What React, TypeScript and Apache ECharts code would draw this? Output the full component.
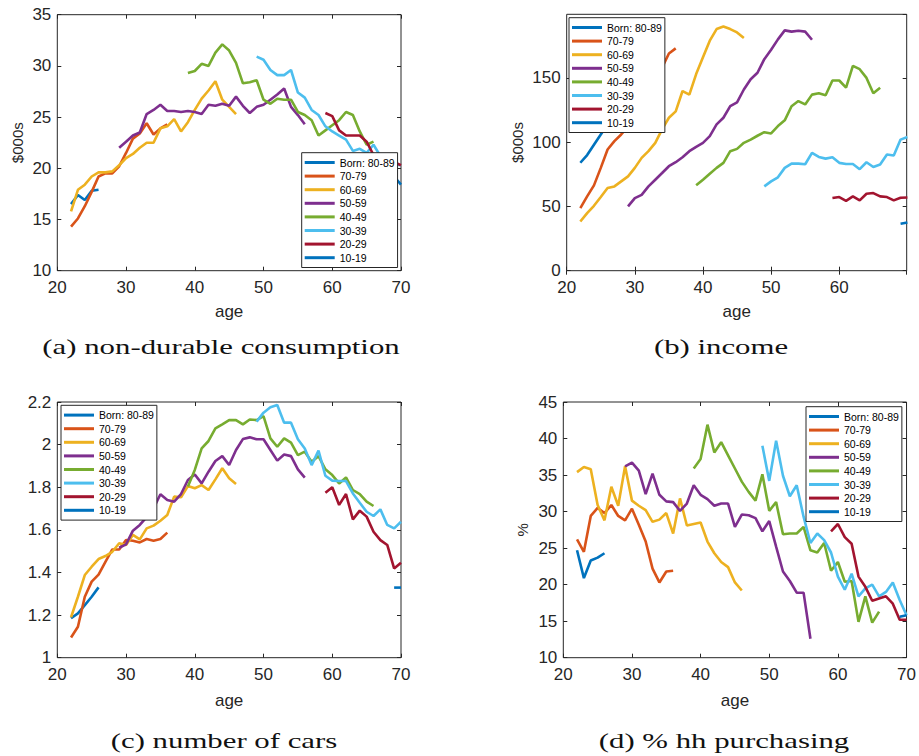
import React, { useEffect, useRef } from 'react';
import * as echarts from 'echarts';

const cohorts = ['Born: 80-89', '70-79', '60-69', '50-59', '40-49', '30-39', '20-29', '10-19'];
const startAges = [22, 22, 22, 29, 39, 49, 59, 69];
const colors = ['#0072BD', '#D95319', '#EDB120', '#7E2F8E', '#77AC30', '#4DBEEE', '#A2142F', '#0072BD'];

// (a) non-durable consumption, $000s
const consumption: number[][] = [
  [16.5, 17.4, 16.9, 17.8, 17.9],
  [14.3, 15.1, 16.3, 17.7, 19.2, 19.5, 19.5, 20.2, 21.5, 22.9, 23.4, 24.4, 23.3, 23.9, 24.3],
  [15.8, 17.9, 18.4, 19.2, 19.6, 19.6, 19.7, 20.3, 21.0, 21.4, 22.0, 22.5, 22.5, 23.9, 24.1, 24.8, 23.6, 24.5, 25.7, 26.8, 27.6, 28.5, 26.7, 26.0, 25.3],
  [22.0, 22.6, 23.2, 23.5, 25.3, 25.7, 26.2, 25.6, 25.6, 25.5, 25.6, 25.5, 25.3, 26.2, 26.1, 26.3, 26.1, 27.0, 26.1, 25.4, 26.0, 26.2, 26.7, 27.2, 27.8, 26.0, 25.2, 24.3],
  [29.3, 29.5, 30.2, 30.0, 31.3, 32.1, 31.5, 30.3, 28.3, 28.4, 28.6, 26.7, 26.3, 26.8, 26.7, 26.7, 25.5, 25.2, 24.7, 23.2, 23.7, 24.2, 24.7, 25.5, 25.2, 23.6, 22.3, 22.6],
  [30.9, 30.6, 29.6, 29.1, 29.1, 29.6, 27.4, 26.9, 25.7, 25.2, 24.1, 23.6, 23.2, 22.8, 21.7, 21.9, 21.5, 22.3, 21.2, 20.8, 20.4, 20.3],
  [25.4, 25.1, 23.7, 23.2, 23.2, 23.2, 22.6, 21.3, 21.0, 20.8, 20.6, 20.3],
  [19.2, 18.4],
];

// (b) income, $000s
const income: number[][] = [
  [84, 90, 98, 106, 114],
  [48.7, 57.8, 66.4, 80, 94.3, 100.8, 106, 112, 120, 128, 138, 148, 158, 169, 173],
  [38.3, 44.8, 50.5, 57.3, 64.3, 65.6, 69.5, 73.4, 80, 87.8, 93, 99.5, 110, 119, 124, 139.8, 137, 153, 166, 179, 188, 190, 188, 185.4, 181],
  [50, 56.5, 59, 65.6, 70.8, 76, 81.3, 84.4, 88.3, 93, 96.4, 99.5, 104.7, 113.8, 119, 128, 131, 141, 149, 154, 164.6, 171.9, 180, 187, 186, 186.7, 186, 179.7],
  [66.4, 70.8, 75.5, 80, 83.9, 93, 94.8, 99.5, 102, 105, 107.8, 106.8, 112.5, 117, 128, 132, 129.4, 137, 138, 136.5, 148, 148, 142.4, 159.4, 156.8, 150, 138, 142.4],
  [65.6, 69.5, 72.7, 80, 83.3, 83.3, 82.8, 91.7, 88.5, 87.2, 88.3, 83.9, 83, 83, 79, 84.4, 80.7, 82.6, 90.4, 89.6, 102, 104],
  [56.5, 57.3, 54.4, 57.8, 54.7, 59.9, 60.4, 57.8, 57.3, 54.7, 56.8, 57],
  [36.5, 37.5],
];

// (c) number of cars
const cars: number[][] = [
  [1.185, 1.208, 1.247, 1.286, 1.33],
  [1.095, 1.145, 1.286, 1.357, 1.39, 1.45, 1.508, 1.508, 1.552, 1.549, 1.541, 1.557, 1.549, 1.557, 1.587],
  [1.19, 1.286, 1.388, 1.427, 1.463, 1.477, 1.497, 1.537, 1.529, 1.576, 1.555, 1.607, 1.62, 1.643, 1.67, 1.756, 1.753, 1.806, 1.795, 1.81, 1.787, 1.837, 1.889, 1.842, 1.815],
  [1.516, 1.532, 1.596, 1.623, 1.66, 1.7, 1.767, 1.74, 1.732, 1.768, 1.834, 1.86, 1.818, 1.873, 1.923, 1.946, 1.904, 1.975, 2.026, 2.034, 2.025, 2.025, 1.975, 1.925, 1.954, 1.946, 1.884, 1.845],
  [1.803, 1.881, 1.982, 2.017, 2.076, 2.095, 2.115, 2.115, 2.095, 2.118, 2.115, 2.134, 2.029, 1.99, 2.029, 2.009, 1.951, 1.967, 1.92, 1.946, 1.884, 1.857, 1.818, 1.846, 1.787, 1.768, 1.732, 1.712],
  [2.108, 2.15, 2.175, 2.186, 2.103, 2.103, 2.025, 1.982, 1.904, 1.972, 1.854, 1.831, 1.829, 1.829, 1.771, 1.727, 1.685, 1.665, 1.696, 1.623, 1.607, 1.638],
  [1.774, 1.8, 1.717, 1.768, 1.649, 1.69, 1.662, 1.591, 1.552, 1.529, 1.419, 1.446],
  [1.329, 1.329],
];

// (d) % hh purchasing
const purchasing: number[][] = [
  [24.7, 20.9, 23.3, 23.7, 24.3],
  [26.2, 24.5, 29.4, 30.5, 29.8, 30.9, 29.4, 28.8, 30.4, 28.2, 25.9, 22.2, 20.3, 21.8, 21.9],
  [35.4, 36.1, 35.8, 30.9, 28.8, 33.4, 30.8, 36.2, 31.5, 30.8, 30.2, 28.6, 28.9, 29.8, 27.0, 31.8, 28.1, 28.3, 28.5, 25.9, 24.3, 23.1, 22.4, 20.3, 19.2],
  [36.2, 36.7, 35.6, 32.4, 35.2, 32.3, 31.4, 31.3, 30.1, 31.1, 33.6, 32.3, 31.7, 30.8, 31.1, 31.1, 27.9, 29.6, 29.5, 29.1, 27.3, 28.7, 25.2, 21.8, 20.5, 18.9, 18.9, 12.6],
  [35.9, 37.2, 41.9, 38.1, 39.5, 37.7, 35.9, 34.1, 32.7, 31.5, 35.1, 30.1, 31.3, 26.9, 27.0, 27.0, 27.9, 24.7, 24.4, 25.7, 21.9, 23.1, 20.4, 20.5, 14.9, 18.4, 14.8, 16.3],
  [39.0, 34.2, 39.7, 34.9, 32.1, 33.6, 29.3, 25.7, 27.0, 26.1, 24.4, 21.1, 19.3, 21.5, 18.4, 19.5, 20.0, 18.4, 19.0, 20.3, 17.9, 15.8],
  [27.3, 28.3, 26.5, 25.6, 21.1, 19.7, 17.8, 18.1, 18.4, 17.4, 15.2, 15.2],
  [15.6, 15.8],
];

const panelData = [consumption, income, cars, purchasing];
const yNames = ['$000s', '$000s', '', '%'];
const yMins = [10, 0, 1, 10];
const yMaxs = [35, 199.5, 2.2, 45];
const yIntervals = [5, 50, 0.2, 5];
const xMaxs = [70, 69.9, 70, 70];
const captions = ['(a) non-durable consumption', '(b) income', '(c) number of cars', '(d) % hh purchasing'];

const FONT = '"Liberation Sans", Arial, Helvetica, sans-serif';
const AX = '#262626';

const grids = [
  { left: 57.3, top: 14.7, width: 343.7, height: 256 },
  { left: 566.7, top: 14.3, width: 340, height: 256.4 },
  { left: 57.3, top: 402, width: 343.7, height: 255.7 },
  { left: 563.3, top: 402, width: 343.4, height: 255.7 },
];
const legendPos = [
  { left: 301.7, top: 152.7 },
  { left: 569, top: 17.7 },
  { left: 61, top: 405.3 },
  { left: 806, top: 406.7 },
];
const yNameGaps = [32, 42, 30, 33];
const captionPos = [
  { x: 221, y: 347 },
  { x: 721, y: 347 },
  { x: 224, y: 741 },
  { x: 724, y: 741 },
];

export default function App() {
  const ref = useRef<HTMLDivElement>(null);
  useEffect(() => {
    if (!ref.current) return;
    const chart = echarts.init(ref.current, null, { renderer: 'svg' });
    const xAxis: any[] = [];
    const yAxis: any[] = [];
    const series: any[] = [];
    for (let p = 0; p < 4; p++) {
      xAxis.push({
        type: 'value', gridIndex: p, min: 20, max: xMaxs[p], interval: 10, position: 'bottom',
        name: 'age', nameLocation: 'middle', nameGap: p < 2 ? 32 : 34,
        nameTextStyle: { fontSize: 17, color: AX, fontFamily: FONT },
        axisLine: { show: false },
        axisTick: { show: true, inside: true, length: 4, lineStyle: { color: AX } },
        axisLabel: { fontSize: 17, color: AX, fontFamily: FONT, margin: 8, showMaxLabel: xMaxs[p] === 70 },
        splitLine: { show: false },
      });
      yAxis.push({
        type: 'value', gridIndex: p, min: yMins[p], max: yMaxs[p], interval: yIntervals[p], position: 'left',
        name: yNames[p], nameLocation: 'middle', nameGap: yNameGaps[p],
        nameTextStyle: { fontSize: 15, color: AX, fontFamily: FONT },
        axisLine: { show: false },
        axisTick: { show: true, inside: true, length: 4, lineStyle: { color: AX } },
        axisLabel: { fontSize: 17, color: AX, fontFamily: FONT, margin: 6, showMaxLabel: p !== 1 },
        splitLine: { show: false },
      });
      panelData[p].forEach((vals, c) => {
        series.push({
          type: 'line', name: cohorts[c], xAxisIndex: p, yAxisIndex: p,
          data: vals.map((v, k) => [startAges[c] + k, v]),
          showSymbol: false, symbol: 'none', silent: true, clip: true,
          lineStyle: { width: 2.6, color: colors[c] },
          itemStyle: { color: colors[c] },
        });
      });
    }
    for (let p = 0; p < 4; p++) {
      xAxis.push({
        type: 'value', gridIndex: p, min: 20, max: xMaxs[p], interval: 10, position: 'top',
        axisLine: { show: false }, axisLabel: { show: false }, splitLine: { show: false },
        axisTick: { show: true, inside: true, length: 4, lineStyle: { color: AX } },
      });
      yAxis.push({
        type: 'value', gridIndex: p, min: yMins[p], max: yMaxs[p], interval: yIntervals[p], position: 'right',
        axisLine: { show: false }, axisLabel: { show: false }, splitLine: { show: false },
        axisTick: { show: true, inside: true, length: 4, lineStyle: { color: AX } },
      });
    }
    const legend = legendPos.map((lp) => ({
      orient: 'vertical', left: lp.left, top: lp.top, data: cohorts,
      icon: 'rect', itemWidth: 30, itemHeight: 3, itemGap: 0,
      padding: [3, 3, 3, 3], borderColor: AX, borderWidth: 1, backgroundColor: '#fff',
      selectedMode: false, itemStyle: { borderWidth: 0 },
      textStyle: { fontSize: 10.5, fontFamily: FONT, color: '#000', lineHeight: 13.6 },
    }));
    const graphic = captions.map((t, i) => ({
      type: 'text', x: captionPos[i].x, y: captionPos[i].y, scaleX: 1.4,
      style: {
        text: t, fontSize: 22, fontFamily: 'Liberation Serif',
        fill: '#111', align: 'center', verticalAlign: 'middle',
      },
    }));
    chart.setOption({
      animation: false,
      backgroundColor: '#fff',
      grid: grids.map((g) => ({ ...g, show: true, borderColor: AX, borderWidth: 1, backgroundColor: 'transparent', containLabel: false })),
      xAxis, yAxis, series, legend, graphic,
    });
    return () => chart.dispose();
  }, []);
  return <div ref={ref} style={{ position: 'fixed', left: 0, top: 0, width: 919, height: 756, background: '#fff' }} />;
}
